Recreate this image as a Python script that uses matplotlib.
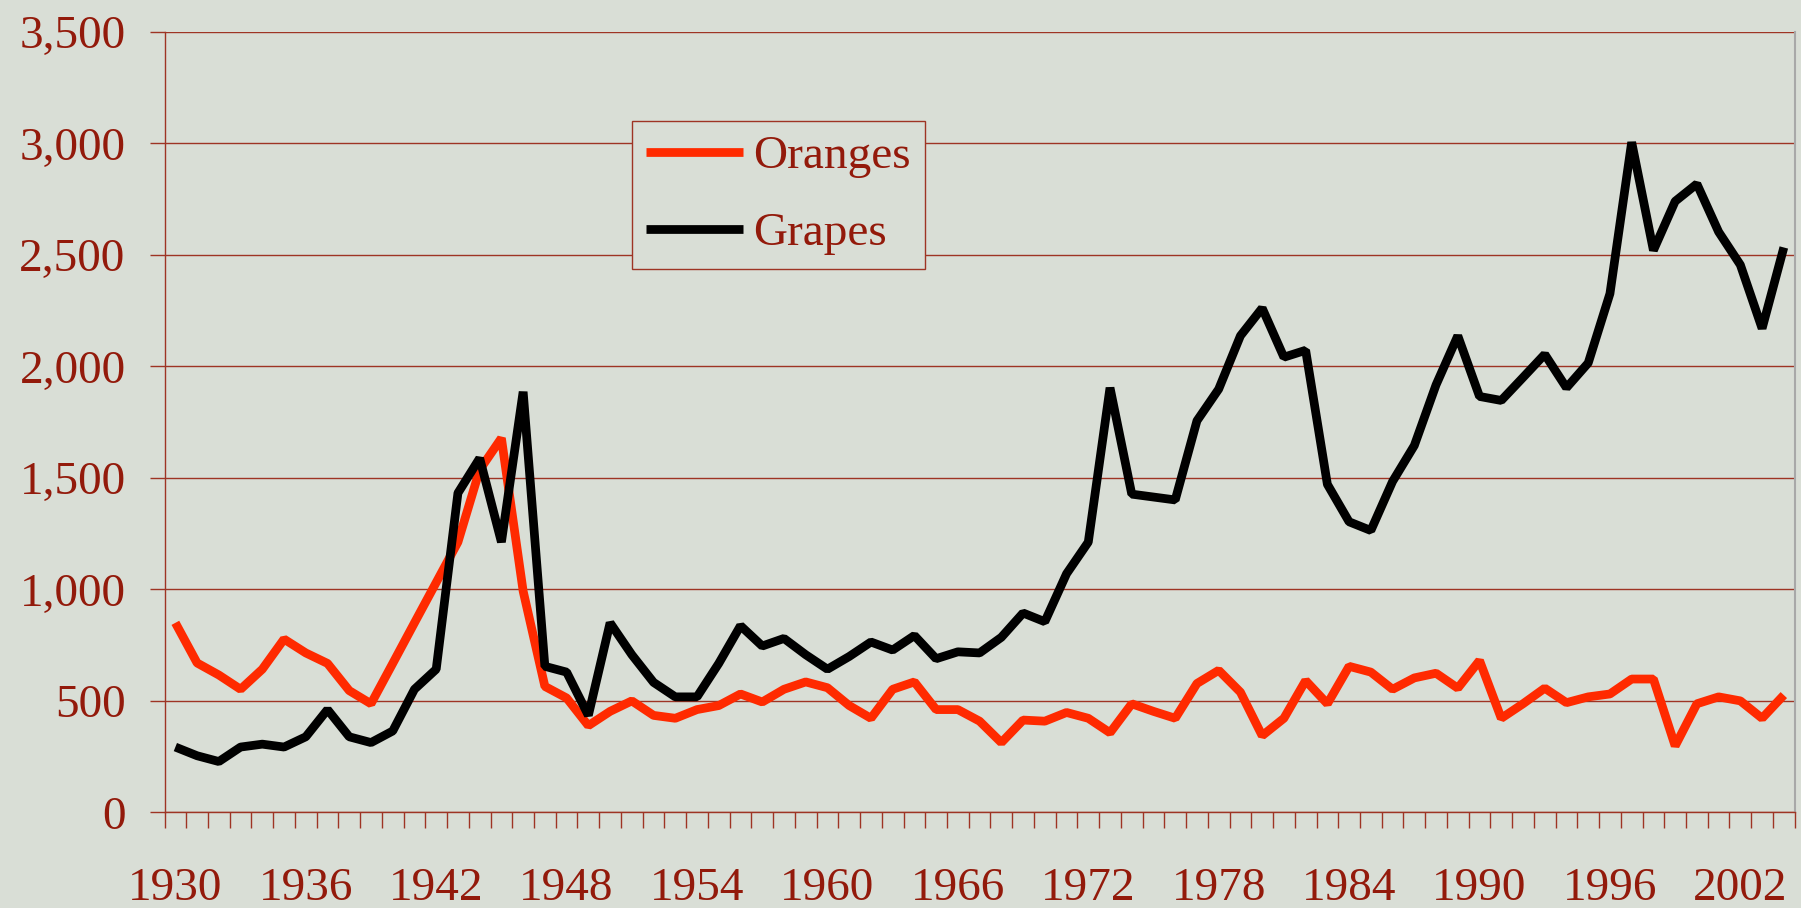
import matplotlib
matplotlib.use("Agg")
from matplotlib import pyplot as plt
import numpy as np

years = list(range(1930, 2005))

oranges = [850, 670, 616, 552, 642, 777, 715, 668, 546, 487,
           668, 850, 1031, 1212, 1536, 1678, 992, 565, 513, 389,
           453, 500, 435, 422, 461, 479, 531, 495, 552, 585,
           559, 479, 422, 552, 585, 461, 461, 409, 313, 414,
           409, 448, 422, 357, 487, 453, 422, 578, 637, 539,
           344, 422, 591, 487, 655, 629, 552, 603, 624, 557,
           681, 422, 487, 557, 492, 518, 531, 598, 598, 298,
           487, 518, 500, 422, 526]

grapes = [293, 254, 228, 293, 306, 293, 339, 461, 339, 313,
          365, 552, 642, 1432, 1588, 1212, 1886, 655, 629, 435,
          850, 707, 583, 518, 518, 668, 837, 746, 780, 707,
          642, 699, 764, 728, 793, 689, 720, 715, 785, 894,
          855, 1070, 1212, 1904, 1427, 1414, 1401, 1756, 1898, 2137,
          2261, 2041, 2072, 1471, 1303, 1264, 1484, 1645, 1917, 2137,
          1865, 1847, 1950, 2054, 1904, 2015, 2326, 3005, 2520, 2740,
          2818, 2603, 2455, 2170, 2533]

label_years = list(range(1930, 2005, 6))

bg = "#D9DED6"
txt = "#931A0B"
grid = "#9E3424"

plt.rcParams['font.family'] = ['Liberation Serif', 'DejaVu Serif']

fig = plt.figure(figsize=(18.01, 9.08), dpi=100, facecolor=bg)
ax = fig.add_axes([164.5/1801, 1-812.4/908, (1794.7-164.5)/1801, (812.4-31.8)/908])
ax.set_facecolor(bg)

x = np.arange(len(years))
ax.plot(x, oranges, color="#FF2A00", lw=6.3, label="Oranges",
        solid_joinstyle='bevel', solid_capstyle='butt', zorder=3)
ax.plot(x, grapes, color="black", lw=6.3, label="Grapes",
        solid_joinstyle='bevel', solid_capstyle='butt', zorder=3)

ax.set_xlim(-0.5, len(years) - 0.5)
ax.set_ylim(0, 3500)

# y axis
ax.set_yticks(range(0, 3501, 500))
ax.set_yticklabels(["{:,}".format(v) for v in range(0, 3501, 500)])
ax.yaxis.grid(True, color=grid, lw=1.0)
ax.set_axisbelow(True)
ax.tick_params(axis='y', direction='out', length=11, width=1.0, color=grid,
               labelsize=34, labelcolor=txt, pad=17)

# x axis: ticks between categories, labels every 6 years
ax.set_xticks(np.arange(len(years) + 1) - 0.5)
ax.set_xticklabels([])
ax.set_xticks([years.index(y) for y in label_years], minor=True)
ax.set_xticklabels([str(y) for y in label_years], minor=True)
ax.tick_params(axis='x', which='major', direction='out', length=11.5, width=1.0, color=grid)
ax.tick_params(axis='x', which='minor', length=0, labelsize=34, labelcolor=txt, pad=40)

for s in ['left', 'bottom']:
    ax.spines[s].set_color(grid)
    ax.spines[s].set_linewidth(1.0)
ax.spines['top'].set_visible(False)
ax.spines['right'].set_color("#A8A8A8")
ax.spines['right'].set_linewidth(1.5)

leg = ax.legend(loc='upper left', bbox_to_anchor=(632/1801, 1-121/908),
                bbox_transform=fig.transFigure, borderaxespad=0,
                fontsize=34, frameon=True, fancybox=False, framealpha=1,
                facecolor=bg, edgecolor=grid, borderpad=0.3,
                handlelength=2.05, handletextpad=0.22, labelspacing=0.72)
leg.get_frame().set_linewidth(1.0)
for t in leg.get_texts():
    t.set_color(txt)

fig.savefig("out.png", dpi=100, facecolor=bg)
